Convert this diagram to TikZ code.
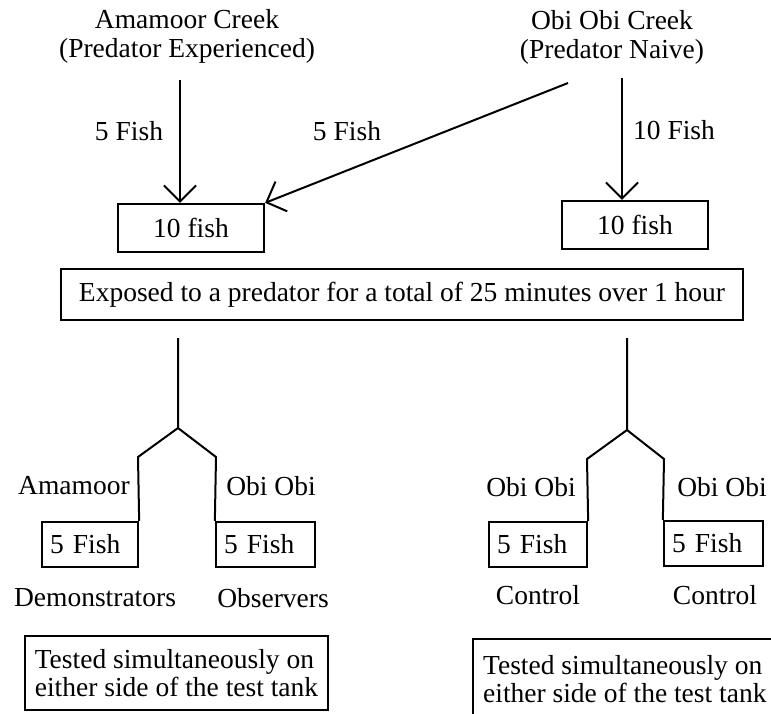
\documentclass[tikz,border=0pt]{standalone}
\usepackage{fontspec}
\setmainfont{Liberation Serif}
\usetikzlibrary{arrows.meta}
\begin{document}
\begin{tikzpicture}[x=1pt,y=-1pt,
  every node/.style={font=\fontsize{27.5}{28}\selectfont, inner sep=0pt},
  lbl/.style={},
  title/.style={align=center, font=\fontsize{27.5}{29}\selectfont},
  tenbox/.style={draw, line width=2.3pt, minimum width=146pt, minimum height=48pt},
  widebox/.style={draw, line width=2.3pt, minimum width=682pt, minimum height=51pt},
  fishbox/.style={draw, line width=2.3pt, inner xsep=8pt, minimum height=45pt, align=left},
  testbox/.style={draw, line width=2.3pt, inner xsep=8pt, minimum height=74pt, minimum width=303pt, align=left},
  ln/.style={line width=2pt},
  arr/.style={line width=2pt, -{Straight Barb[length=16pt, width=32pt, line width=2pt]}}
]
\useasboundingbox (0,0) rectangle (771,713);
\clip (0,0) rectangle (771,713);

% sources
\node[title] (srcA) at (187,36) {Amamoor Creek\\(Predator Experienced)};
\node[title] (srcB) at (612,37) {Obi Obi Creek\\(Predator Naive)};

% first boxes
\node[tenbox] (tenL) at (191,228) {10 fish};
\node[tenbox] (tenR) at (635,225) {10 fish};
\node[widebox] (expo) at (402,294.5) {Exposed to a predator for a total of 25 minutes over 1 hour};

% arrows
\coordinate (sA) at (180,80);
\coordinate (sB) at (568,83);
\coordinate (sC) at (622,78);
\draw[arr] (sA) -- (sA |- tenL.north);
\draw[arr] (sB) -- (tenL.north east);
\draw[arr] (sC) -- (sC |- tenR.north);
\node[lbl] (l1) at (129,131) {5 Fish};
\node[lbl] (l2) at (347,131) {5 Fish};
\node[lbl] (l3) at (674,130) {10 Fish};

% fish boxes
\node[fishbox, text width=80pt] (f1) at (90,544.5) {5 Fish};
\node[fishbox, text width=83pt] (f2) at (265.5,544.5) {5 Fish};
\node[fishbox, text width=82pt] (f3) at (538,544.5) {5 Fish};
\node[fishbox, text width=83pt] (f4) at (713.5,543.5) {5 Fish};

% trees
\coordinate (tL) at (178,338);
\coordinate (aL) at (178,428);
\coordinate (kL1) at (138,457);
\coordinate (kL2) at (216,457);
\draw[ln, line join=miter] (tL) -- (aL) -- (kL1) -- (f1.north east);
\draw[ln, line join=miter] (aL) -- (kL2) -- (f2.north west);
\coordinate (tR) at (627,338);
\coordinate (aR) at (627,430);
\coordinate (kR1) at (587,459);
\coordinate (kR2) at (664,459);
\draw[ln, line join=miter] (tR) -- (aR) -- (kR1) -- (f3.north east);
\draw[ln, line join=miter] (aR) -- (kR2) -- (f4.north west);

% labels
\node[lbl] (n1) at (74,486) {Amamoor};
\node[lbl] (n2) at (271,486) {Obi Obi};
\node[lbl] (n3) at (531,487) {Obi Obi};
\node[lbl] (n4) at (722,487) {Obi Obi};
\node[lbl] (r1) at (95,598) {Demonstrators};
\node[lbl] (r2) at (273,598) {Observers};
\node[lbl] (r3) at (538,595) {Control};
\node[lbl] (r4) at (715,595) {Control};

% test boxes
\node[testbox] (tb1) at (176.5,673) {Tested simultaneously on\\either side of the test tank};
\node[testbox, inner xsep=10pt, minimum width=0pt, minimum height=80pt, anchor=west] (tb2) at (472,679) {Tested simultaneously on\\either side of the test tank};
\end{tikzpicture}
\end{document}
